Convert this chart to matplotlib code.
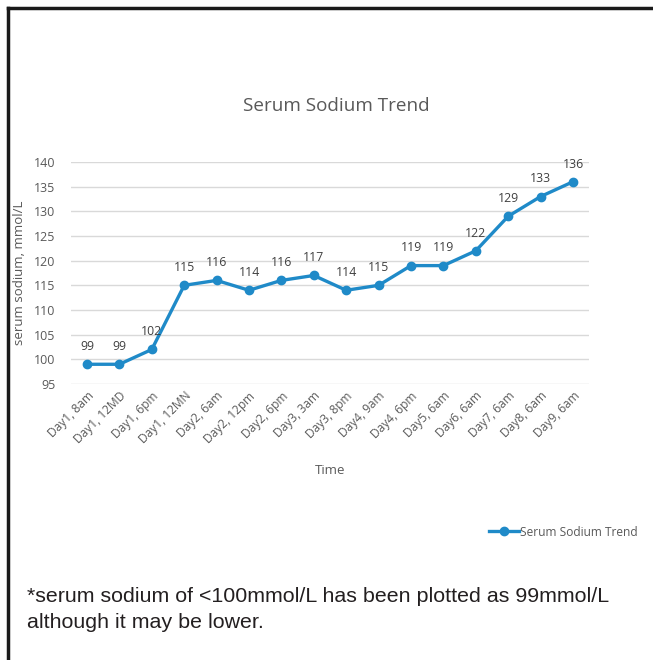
import matplotlib.pyplot as plt
from matplotlib.lines import Line2D

# data
times = ["Day1, 8am", "Day1, 12MD", "Day1, 6pm", "Day1, 12MN", "Day2, 6am",
         "Day2, 12pm", "Day2, 6pm", "Day3, 3am", "Day3, 8pm", "Day4, 9am",
         "Day4, 6pm", "Day5, 6am", "Day6, 6am", "Day7, 6am", "Day8, 6am",
         "Day9, 6am"]
sodium = [99, 99, 102, 115, 116, 114, 116, 117, 114, 115, 119, 119, 122, 129, 133, 136]
yticks = [95, 100, 105, 110, 115, 120, 125, 130, 135, 140]

BLUE = "#1f8ac8"
GREY = "#595959"
FONT = "Open Sans"

W, H = 653, 660
fig = plt.figure(figsize=(W / 100, H / 100), dpi=100)
fig.patch.set_facecolor("white")

ax = fig.add_axes([70.8 / W, 1 - 384 / H, 518.4 / W, 222 / H])
x = list(range(len(times)))
ax.plot(x, sodium, color=BLUE, lw=2.4, marker="o", ms=6, zorder=3)
for xi, v in zip(x, sodium):
    ax.annotate(str(v), (xi, v), xytext=(0, 8), textcoords="offset points",
                ha="center", va="bottom", fontsize=8.8, color="#404040", family=FONT)

ax.set_xlim(-0.5, len(times) - 0.5)
ax.set_ylim(95, 140)
ax.set_yticks(yticks)
ax.set_xticks(x)
ax.set_xticklabels(times, rotation=45, ha="right", rotation_mode="anchor",
                   fontsize=8.6, color=GREY, family=FONT)
for lab in ax.get_yticklabels():
    lab.set_fontsize(9)
    lab.set_color(GREY)
    lab.set_family(FONT)
ax.tick_params(length=0, pad=11)
ax.tick_params(axis="x", pad=4)
ax.grid(axis="y", color="#d9d9d9", lw=1)
ax.set_axisbelow(True)
for s in ax.spines.values():
    s.set_visible(False)

ax.set_ylabel("serum sodium, mmol/L", fontsize=9.5, color=GREY, family=FONT, labelpad=6)
fig.text(330 / W, 1 - 470 / H, "Time", ha="center", va="center", fontsize=9.5,
         color=GREY, family=FONT)
fig.text(336 / W, 1 - 106 / H, "Serum Sodium Trend", ha="center", va="center",
         fontsize=13.6, color=GREY, family=FONT)

handle = Line2D([], [], color=BLUE, lw=2.4, marker="o", ms=6)
fig.legend([handle], ["Serum Sodium Trend"], loc="center",
           bbox_to_anchor=(563 / W, 1 - 532 / H), frameon=False,
           prop={"family": FONT, "size": 8.6}, labelcolor=GREY,
           handlelength=2.5, handletextpad=0.1)

fig.text(27 / W, 1 - 597 / H, "*serum sodium of <100mmol/L has been plotted as 99mmol/L",
         ha="left", va="center", fontsize=15.4, color="#231f20", family="Liberation Sans")
fig.text(27 / W, 1 - 622 / H, "although it may be lower.",
         ha="left", va="center", fontsize=15.4, color="#231f20", family="Liberation Sans")

# frame border (top and left edges visible)
fig.add_artist(Line2D([8 / W, 1], [1 - 8 / H, 1 - 8 / H], color="#1a1a1a", lw=2.5,
                      transform=fig.transFigure))
fig.add_artist(Line2D([8 / W, 8 / W], [0, 1 - 8 / H], color="#1a1a1a", lw=2.5,
                      transform=fig.transFigure))

fig.savefig("out.png", dpi=100)
